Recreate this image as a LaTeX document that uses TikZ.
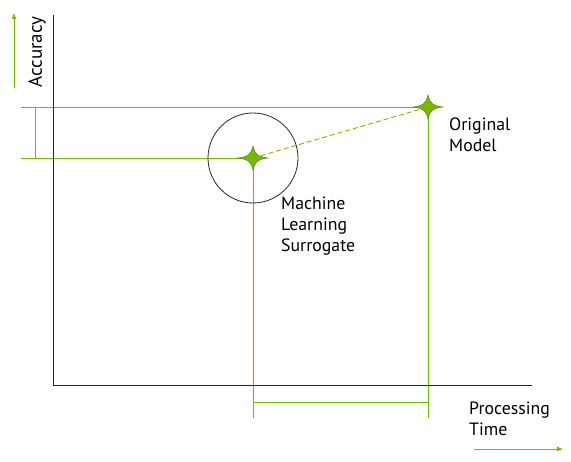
\documentclass[tikz,border=0pt]{standalone}
\usepackage{fontspec}
\setmainfont{PT Sans}
\usetikzlibrary{arrows.meta}
\definecolor{nvgreen}{HTML}{76B900}
\definecolor{stardark}{HTML}{5A8C00}
\tikzset{
  gline/.style={draw=nvgreen, line width=0.9pt},
  axisline/.style={draw=black!85, line width=1pt},
  lbl/.style={align=left, inner sep=0pt, text=black, font=\fontsize{17.8}{21}\selectfont},
  starshape/.style={fill=nvgreen, draw=stardark, line width=0.5pt},
  garrow/.style={gline, -{Latex[length=6pt,width=5pt]}}
}
\begin{document}
\begin{tikzpicture}[x=1pt,y=-1pt]
\useasboundingbox (0,0) rectangle (571,462);
% key points
\coordinate (origin) at (53,386);
\coordinate (ytop) at (53,15);
\coordinate (xend) at (532,386);
\coordinate (ml) at (253,158);
\coordinate (orig) at (428,107);
\coordinate (mlL) at (21,158);
\coordinate (origL) at (21,107);
\coordinate (mlB) at (253,418);
\coordinate (origB) at (428,418);
\coordinate (brA) at (253,402);
\coordinate (brB) at (428,402);
\coordinate (vA) at (35,107);
\coordinate (vB) at (35,158);
\coordinate (ya0) at (14,88);
\coordinate (ya1) at (14,13);
\coordinate (xa0) at (474,449);
\coordinate (xa1) at (563,449);
% green guide lines
\draw[gline] (origL) -- (orig);
\draw[gline] (mlL) -- (ml);
\draw[gline] (vA) -- (vB);
\draw[gline] (ml) -- (mlB);
\draw[gline] (orig) -- (origB);
\draw[gline] (brA) -- (brB);
\draw[gline, dash pattern=on 5pt off 3pt] (ml) -- (orig);
% axes
\draw[axisline] (ytop) -- (origin) -- (xend);
% circle
\draw[black!85, line width=0.8pt] (ml) circle (45);
% stars
\foreach \c in {ml,orig}{
  \path[starshape, shift={(\c)}]
    (-15,0) .. controls (-5,-1.5) and (-2.5,-2.5) .. (0,-12)
    .. controls (2.5,-2.5) and (5,-1.5) .. (15,0)
    .. controls (5,1.5) and (2.5,2.5) .. (0,12)
    .. controls (-2.5,2.5) and (-5,1.5) .. (-15,0) -- cycle;
}
% axis arrows
\draw[garrow] (ya0) -- (ya1);
\draw[garrow] (xa0) -- (xa1);
% labels
\node[lbl, rotate=90, font=\fontsize{19}{21}\selectfont] (acc) at (37,52) {Accuracy};
\node[lbl, anchor=north west] (origlbl) at (449,118) {Original\\Model};
\node[lbl, anchor=north west] (mllbl) at (281,197) {Machine\\Learning\\Surrogate};
\node[lbl, anchor=north west] (ptlbl) at (469,402) {Processing\\Time};
\end{tikzpicture}
\end{document}
